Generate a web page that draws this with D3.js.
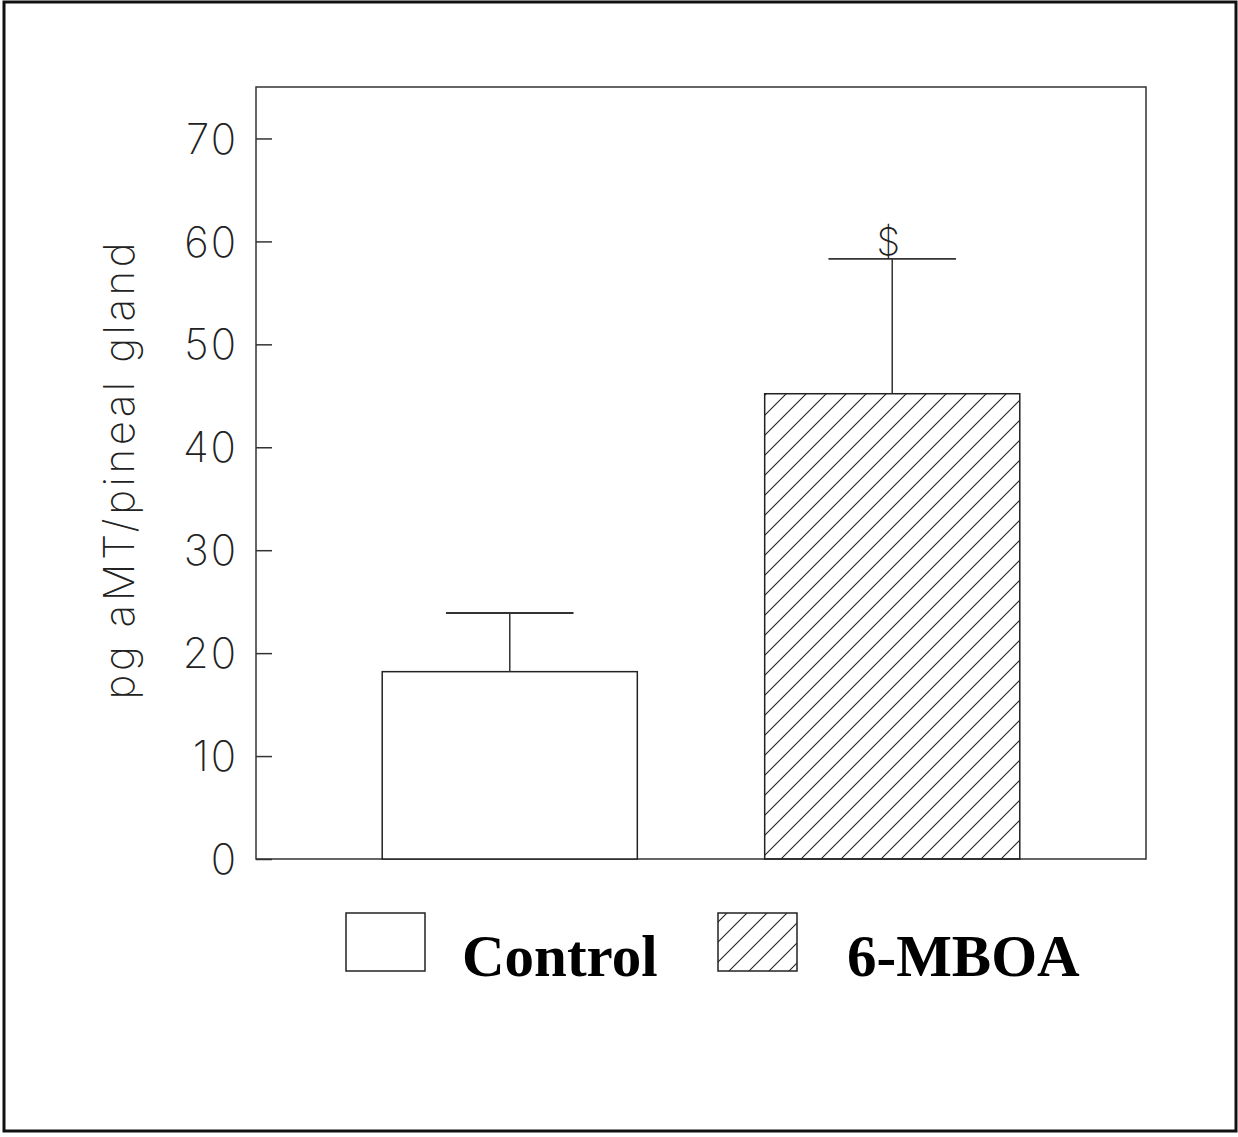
<!DOCTYPE html>
<html>
<head>
<meta charset="utf-8">
<script src="https://cdn.jsdelivr.net/npm/d3@7"></script>
<style>
  body { margin: 0; background: #fff; }
  .tick-label { font-family: Inter, 'DejaVu Sans', sans-serif; font-weight: 200; fill: #222; }
  .legend-label { font-family: 'Liberation Serif', 'Times New Roman', serif; font-weight: bold; fill: #000; }
</style>
</head>
<body>
<div id="chart"></div>
<script>
// groups, means and upper error (SEM) in pg aMT / pineal gland
var groups = ['Control', '6-MBOA']
var means = [18.2, 45.2]
var errors = [5.7, 13.1]
var marks = ['', '$']
var yTicks = [0, 10, 20, 30, 40, 50, 60, 70]
var yLabel = 'pg aMT/pineal gland'

var W = 1238, H = 1137
var margin = {left: 256, right: 92, top: 87, bottom: 278}

var svg = d3.select('#chart').append('svg')
  .attr('width', W).attr('height', H)

// outer frame
svg.append('rect')
  .attr('x', 4).attr('y', 2).attr('width', W - 6).attr('height', 1129)
  .attr('fill', 'none').attr('stroke', '#111').attr('stroke-width', 3)

var defs = svg.append('defs')
var pat = defs.append('pattern')
  .attr('id', 'hatch')
  .attr('patternUnits', 'userSpaceOnUse')
  .attr('width', 20).attr('height', 20)
pat.append('path')
  .attr('d', 'M0,20 L20,0 M-5,5 L5,-5 M15,25 L25,15')
  .attr('stroke', '#222').attr('stroke-width', 1.1)

var fills = ['#fff', 'url(#hatch)']

var x = d3.scaleBand()
  .domain(groups)
  .range([margin.left, W - margin.right])
  .paddingInner(0.333).paddingOuter(0.33)

var y = d3.scaleLinear()
  .domain([0, 75])
  .range([H - margin.bottom, margin.top])

var g = svg.append('g')

// plot frame
g.append('rect')
  .attr('x', margin.left).attr('y', margin.top)
  .attr('width', W - margin.right - margin.left)
  .attr('height', y(0) - margin.top)
  .attr('fill', 'none').attr('stroke', '#333').attr('stroke-width', 1.5)

// y axis with ticks pointing inward
var yAxis = d3.axisRight(y).tickValues(yTicks).tickSize(16).tickFormat('')
var ax = g.append('g')
  .attr('transform', 'translate(' + margin.left + ',0)')
  .call(yAxis)
ax.select('.domain').remove()
ax.selectAll('.tick line').attr('stroke', '#333').attr('stroke-width', 1.5)

g.selectAll('.tick-label')
  .data(yTicks)
  .join('text')
  .attr('class', 'tick-label')
  .attr('x', margin.left - 18)
  .attr('y', function(d){ return y(d) })
  .attr('dy', '0.36em')
  .attr('text-anchor', 'end')
  .attr('font-size', 42)
  .attr('letter-spacing', 2)
  .text(function(d){ return d })

// y label
g.append('text')
  .attr('class', 'tick-label')
  .attr('transform', 'translate(134,' + y(37.7) + ') rotate(-90)')
  .attr('text-anchor', 'middle')
  .attr('font-size', 42)
  .attr('textLength', 457)
  .attr('lengthAdjust', 'spacing')
  .text(yLabel)

// bars
g.selectAll('.bar')
  .data(groups)
  .join('rect')
  .attr('class', 'bar')
  .attr('x', function(d){ return x(d) })
  .attr('width', x.bandwidth())
  .attr('y', function(d, i){ return y(means[i]) })
  .attr('height', function(d, i){ return y(0) - y(means[i]) })
  .attr('fill', function(d, i){ return fills[i] })
  .attr('stroke', '#222').attr('stroke-width', 1.5)

// error bars (upper only)
groups.forEach(function(d, i){
  var cx = x(d) + x.bandwidth() / 2
  var top = y(means[i] + errors[i])
  g.append('line')
    .attr('x1', cx).attr('x2', cx)
    .attr('y1', y(means[i])).attr('y2', top)
    .attr('stroke', '#333').attr('stroke-width', 1.5)
  g.append('line')
    .attr('x1', cx - x.bandwidth() / 4).attr('x2', cx + x.bandwidth() / 4)
    .attr('y1', top).attr('y2', top)
    .attr('stroke', '#333').attr('stroke-width', 1.8)
  if (marks[i]) {
    g.append('text')
      .attr('class', 'tick-label')
      .attr('x', cx - 4).attr('y', top - 4)
      .attr('text-anchor', 'middle')
      .attr('font-size', 38)
      .text(marks[i])
  }
})

// legend
var legX = [346, 718]
var legText = [462, 847]
var leg = svg.append('g')
groups.forEach(function(d, i){
  leg.append('rect')
    .attr('x', legX[i]).attr('y', 913)
    .attr('width', 79).attr('height', 58)
    .attr('fill', fills[i]).attr('stroke', '#222').attr('stroke-width', 1.5)
  leg.append('text')
    .attr('class', 'legend-label')
    .attr('x', legText[i]).attr('y', 976)
    .attr('font-size', 59)
    .text(d)
})
</script>
</body>
</html>
